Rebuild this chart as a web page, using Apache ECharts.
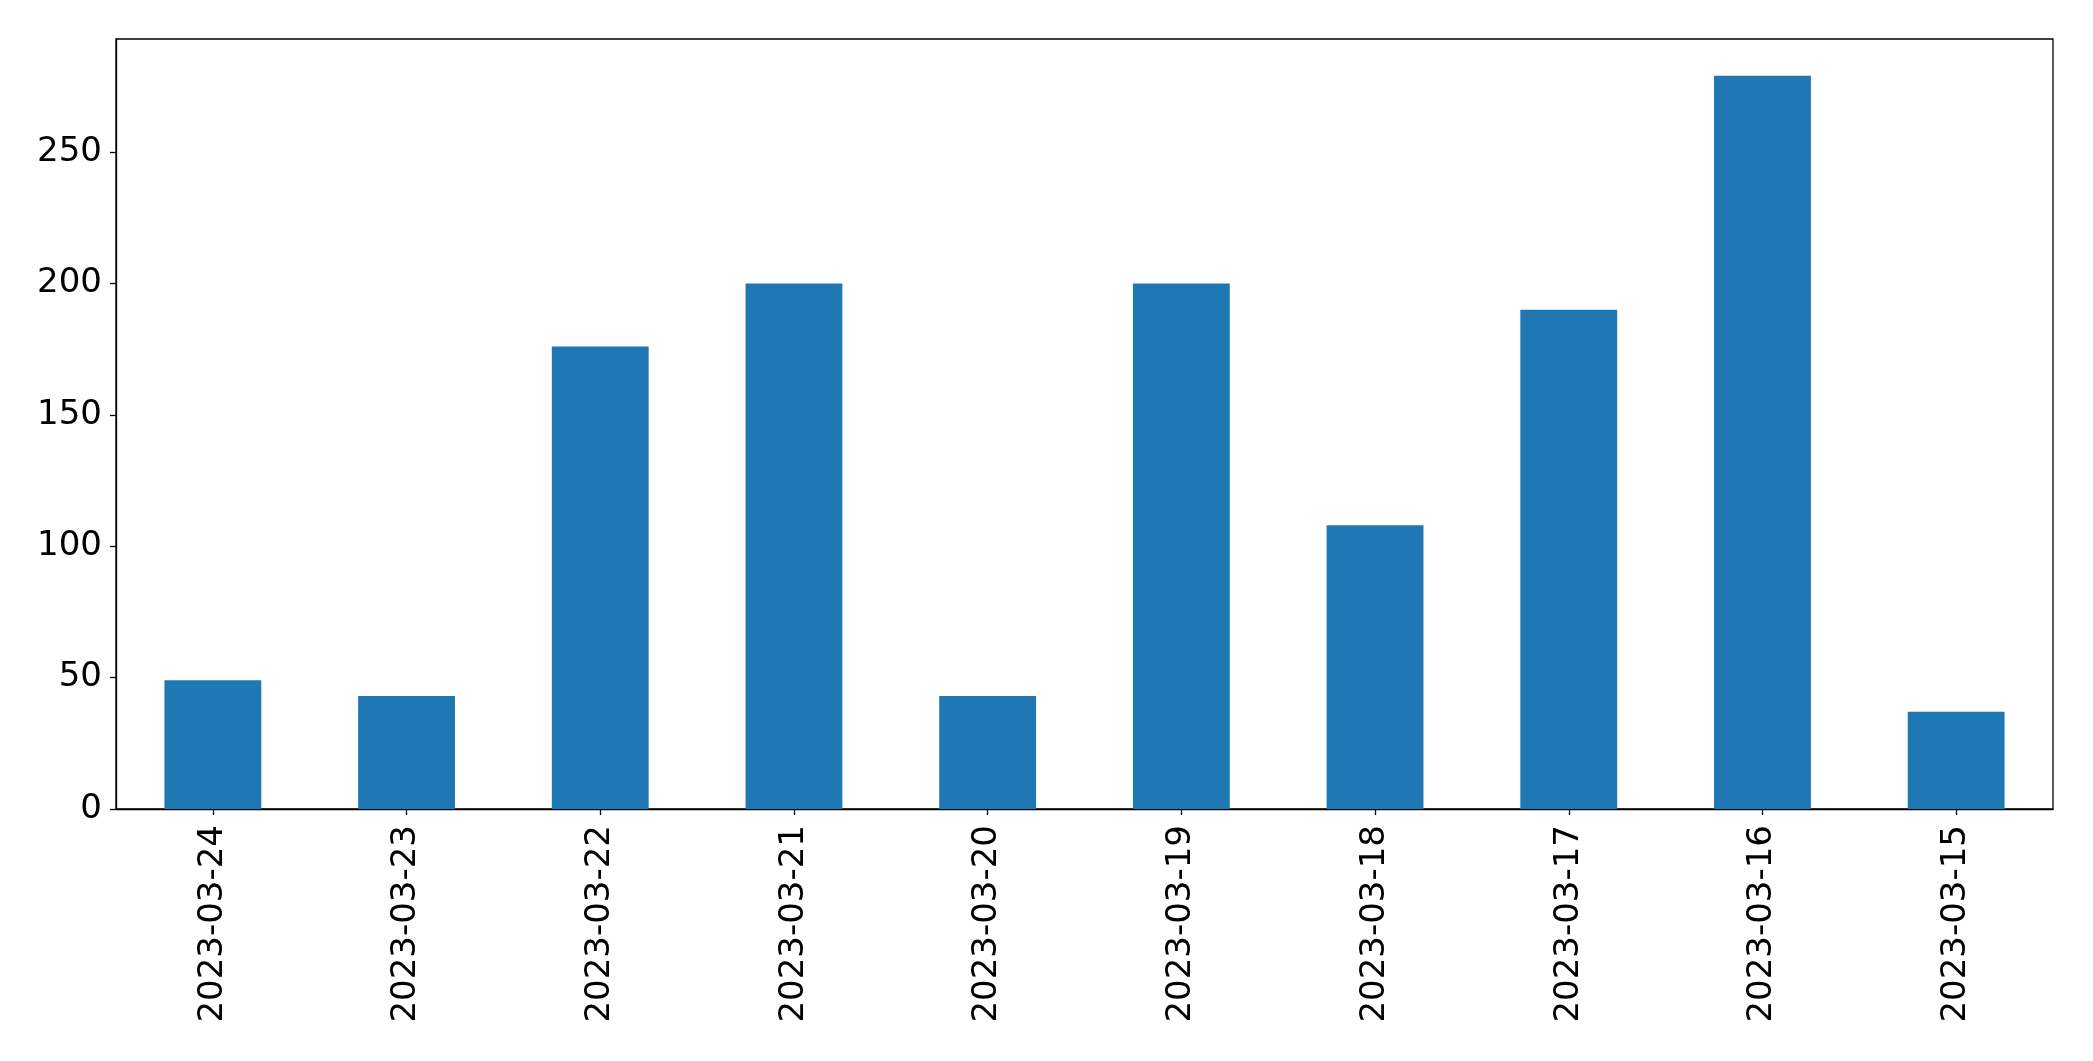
<!DOCTYPE html>
<html>
<head>
<meta charset="utf-8">
<script src="https://cdn.jsdelivr.net/npm/echarts@6/dist/echarts.min.js"></script>
<style>html,body{margin:0;padding:0;background:#fff;}#c{width:2093px;height:1061px;}</style>
</head>
<body>
<div id="c"></div>
<script>
const categories = ["2023-03-24","2023-03-23","2023-03-22","2023-03-21","2023-03-20","2023-03-19","2023-03-18","2023-03-17","2023-03-16","2023-03-15"];
const values = [49, 43, 176, 200, 43, 200, 108, 190, 279, 37];
const yTicks = [0, 50, 100, 150, 200, 250];

const chart = echarts.init(document.getElementById('c'), null, {renderer: 'canvas'});
const font = 'DejaVu Sans';
chart.setOption({
  animation: false,
  backgroundColor: '#ffffff',
  grid: {left: 116, right: 40, top: 39, bottom: 252, show: true, borderColor: '#000', borderWidth: 1.3, backgroundColor: 'transparent'},
  xAxis: {
    type: 'category',
    data: categories,
    axisLine: {show: true, lineStyle: {color: '#000', width: 1.3}},
    axisTick: {show: true, alignWithLabel: true, length: 6, lineStyle: {color: '#000', width: 1.3}},
    axisLabel: {rotate: 90, margin: 16, color: '#000', fontFamily: font, fontSize: 34},
    splitLine: {show: false}
  },
  yAxis: {
    type: 'value',
    min: 0,
    max: 293,
    interval: 50,
    axisLine: {show: true, lineStyle: {color: '#000', width: 1.3}},
    axisTick: {show: true, length: 6, lineStyle: {color: '#000', width: 1.3}, customValues: yTicks},
    axisLabel: {margin: 14, color: '#000', fontFamily: font, fontSize: 34, customValues: yTicks},
    splitLine: {show: false}
  },
  series: [{
    type: 'bar',
    data: values,
    barWidth: '50%',
    itemStyle: {color: '#1f77b4'}
  }]
});
</script>
</body>
</html>
